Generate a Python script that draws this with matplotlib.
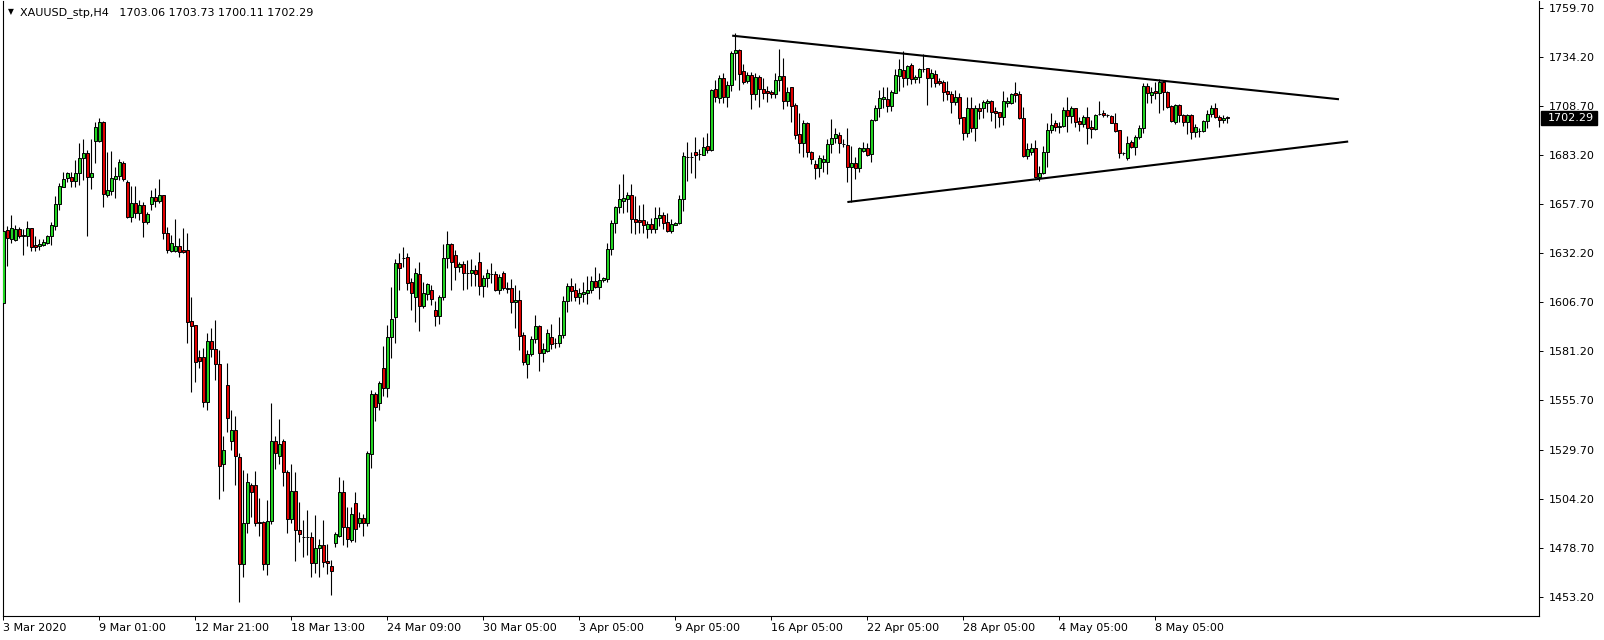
import matplotlib
matplotlib.use("Agg")
import matplotlib.pyplot as plt
from matplotlib.patches import Rectangle
import numpy as np

plt.rcParams['font.family'] = ['DejaVu Sans']

# XAUUSD H4 bars (one value per bar)
opens = [
    1606.1, 1644.2, 1639.4, 1639.0, 1644.8, 1641.8, 1641.1, 1645.1, 1636.4, 1636.1,
    1636.4, 1637.6, 1641.1, 1646.5, 1657.6, 1666.8, 1671.5, 1671.6, 1669.9, 1673.7,
    1681.5, 1684.1, 1671.6, 1690.7, 1690.7, 1700.3, 1662.4, 1664.7, 1671.0, 1672.3,
    1679.3, 1669.4, 1651.2, 1658.1, 1652.9, 1657.1, 1648.6, 1657.6, 1661.2, 1659.5,
    1662.3, 1642.8, 1633.5, 1633.5, 1635.9, 1633.6, 1633.6, 1596.9, 1594.6, 1578.1,
    1578.0, 1554.5, 1586.5, 1582.3, 1574.3, 1522.3, 1563.6, 1534.4, 1540.4, 1526.3,
    1470.2, 1491.6, 1511.5, 1511.5, 1492.2, 1492.2, 1470.2, 1492.9, 1534.4, 1526.8,
    1534.4, 1518.1, 1493.7, 1508.4, 1488.1, 1484.7, 1484.6, 1484.6, 1470.7, 1478.6,
    1480.3, 1472.0, 1469.4, 1481.5, 1485.0, 1507.7, 1489.5, 1482.9, 1502.0, 1491.9,
    1494.2, 1491.9, 1527.5, 1558.7, 1554.0, 1572.2, 1561.8, 1588.7, 1599.1, 1626.9,
    1629.8, 1630.0, 1617.2, 1609.6, 1621.4, 1604.9, 1611.0, 1613.0, 1602.6, 1599.7,
    1609.6, 1629.5, 1637.0, 1631.1, 1624.8, 1626.6, 1621.8, 1621.7, 1623.4, 1627.6,
    1615.3, 1619.1, 1621.5, 1621.2, 1613.0, 1621.7, 1613.9, 1613.9, 1606.6, 1607.8,
    1589.6, 1574.3, 1579.5, 1587.3, 1594.3, 1580.4, 1581.4, 1588.4, 1585.3, 1585.3,
    1589.6, 1607.3, 1615.1, 1613.0, 1609.6, 1611.1, 1611.6, 1613.0, 1617.7, 1614.4,
    1618.2, 1618.7, 1634.2, 1648.0, 1656.0, 1659.5, 1660.4, 1662.5, 1649.8, 1649.5,
    1649.5, 1644.6, 1647.3, 1644.9, 1650.3, 1652.0, 1648.4, 1643.9, 1647.0, 1647.7,
    1660.2, 1682.1, 1682.5, 1684.7, 1683.8, 1683.5, 1688.0, 1685.9, 1717.5, 1712.8,
    1723.2, 1713.7, 1719.6, 1736.2, 1737.9, 1727.2, 1721.9, 1724.9, 1715.1, 1723.7,
    1717.5, 1716.8, 1716.2, 1715.1, 1722.3, 1724.4, 1711.6, 1718.5, 1709.3, 1694.2,
    1689.7, 1699.8, 1685.0, 1678.4, 1676.7, 1679.8, 1679.8, 1689.0, 1692.0, 1693.7,
    1689.0, 1688.5, 1677.2, 1679.0, 1676.4, 1685.5, 1686.8, 1683.6, 1701.5, 1707.6,
    1712.3, 1712.3, 1708.8, 1715.7, 1724.4, 1727.5, 1723.2, 1730.1, 1722.7, 1723.7,
    1727.9, 1728.4, 1723.2, 1725.4, 1722.0, 1721.5, 1716.6, 1714.9, 1711.1, 1713.3,
    1702.9, 1694.6, 1707.6, 1697.2, 1707.6, 1707.6, 1710.2, 1711.6, 1706.2, 1705.5,
    1702.9, 1710.5, 1710.5, 1715.4, 1715.0, 1702.4, 1683.0, 1684.7, 1686.8, 1671.7,
    1674.1, 1684.7, 1696.3, 1700.1, 1697.7, 1698.4, 1706.7, 1703.8, 1707.6, 1701.0,
    1699.4, 1703.2, 1697.7, 1696.6, 1704.5, 1705.0, 1704.2, 1703.6, 1700.1, 1696.3,
    1684.4, 1681.6, 1690.0, 1687.3, 1692.8, 1697.2, 1719.2, 1714.5, 1716.6, 1715.4,
    1721.4, 1716.3, 1708.8, 1700.6, 1709.3, 1704.1, 1700.6, 1704.1, 1695.4, 1695.8,
    1695.8, 1701.0, 1704.6, 1707.6, 1703.2, 1701.5, 1703.06,
]
highs = [
    1649.6, 1646.3, 1652.0, 1646.8, 1646.0, 1644.6, 1648.9, 1645.5, 1641.1, 1639.4,
    1639.6, 1641.6, 1648.6, 1661.9, 1668.5, 1674.4, 1674.6, 1674.4, 1680.7, 1689.3,
    1691.4, 1685.9, 1691.4, 1700.6, 1702.4, 1701.0, 1685.0, 1685.3, 1677.2, 1681.0,
    1680.3, 1670.3, 1667.1, 1667.1, 1659.8, 1659.0, 1653.8, 1665.0, 1665.9, 1670.6,
    1662.5, 1645.6, 1641.6, 1649.9, 1639.9, 1645.3, 1642.5, 1609.5, 1594.6, 1581.8,
    1582.7, 1590.5, 1593.4, 1597.4, 1581.8, 1537.0, 1575.2, 1550.6, 1547.4, 1528.0,
    1519.3, 1517.6, 1512.4, 1519.0, 1504.6, 1492.9, 1503.7, 1554.0, 1537.0, 1545.9,
    1535.3, 1519.3, 1522.5, 1518.5, 1502.8, 1493.3, 1498.5, 1487.2, 1495.9, 1483.2,
    1493.3, 1480.8, 1472.5, 1487.2, 1515.9, 1514.1, 1500.2, 1500.2, 1508.0, 1497.6,
    1496.4, 1529.2, 1561.0, 1560.1, 1565.8, 1583.9, 1594.8, 1614.8, 1629.0, 1632.5,
    1635.2, 1632.5, 1619.1, 1624.3, 1627.6, 1617.4, 1616.5, 1615.6, 1607.3, 1610.4,
    1637.0, 1643.7, 1637.7, 1633.8, 1627.6, 1628.1, 1628.6, 1629.0, 1626.0, 1633.0,
    1620.8, 1623.8, 1627.2, 1623.1, 1621.4, 1623.1, 1617.4, 1618.6, 1615.6, 1613.0,
    1591.3, 1581.8, 1589.1, 1600.0, 1594.8, 1585.3, 1592.7, 1595.3, 1587.9, 1599.1,
    1609.9, 1616.8, 1619.1, 1616.5, 1613.9, 1617.4, 1620.3, 1620.3, 1624.8, 1621.7,
    1620.0, 1637.3, 1649.5, 1656.7, 1668.2, 1673.4, 1664.2, 1668.2, 1661.9, 1657.3,
    1657.8, 1649.1, 1650.3, 1656.0, 1656.4, 1653.8, 1653.3, 1649.8, 1648.6, 1662.5,
    1685.0, 1690.2, 1685.0, 1692.5, 1686.2, 1692.5, 1694.9, 1717.5, 1722.3, 1724.9,
    1725.8, 1722.0, 1737.6, 1747.0, 1738.3, 1730.7, 1726.7, 1726.7, 1726.2, 1724.9,
    1723.2, 1719.2, 1717.1, 1725.8, 1738.3, 1733.6, 1718.9, 1718.9, 1710.2, 1705.0,
    1701.5, 1700.6, 1685.3, 1680.7, 1683.3, 1683.3, 1691.4, 1701.8, 1697.2, 1695.4,
    1691.4, 1697.2, 1688.0, 1682.1, 1687.6, 1690.2, 1689.4, 1701.8, 1709.3, 1717.1,
    1718.5, 1718.5, 1717.1, 1727.9, 1733.1, 1737.6, 1730.1, 1731.0, 1724.9, 1728.4,
    1735.8, 1728.4, 1727.9, 1727.5, 1723.2, 1722.3, 1722.0, 1716.8, 1717.1, 1715.7,
    1702.9, 1713.7, 1713.7, 1709.3, 1710.2, 1711.9, 1712.3, 1711.9, 1708.1, 1705.8,
    1716.8, 1713.7, 1715.7, 1721.1, 1716.8, 1708.5, 1689.4, 1689.4, 1691.1, 1677.6,
    1688.0, 1699.8, 1705.0, 1701.5, 1700.6, 1708.5, 1713.3, 1708.8, 1707.9, 1703.2,
    1704.1, 1708.5, 1701.5, 1704.6, 1711.6, 1706.7, 1704.6, 1704.1, 1705.3, 1696.3,
    1685.0, 1693.2, 1691.1, 1693.7, 1698.9, 1720.9, 1720.9, 1718.9, 1721.4, 1722.7,
    1722.3, 1716.8, 1709.3, 1709.8, 1709.8, 1704.6, 1704.6, 1704.6, 1699.4, 1697.2,
    1701.5, 1706.7, 1709.3, 1710.5, 1704.1, 1704.1, 1703.73,
]
lows = [
    1605.5, 1625.7, 1637.3, 1638.7, 1639.9, 1631.2, 1636.1, 1633.5, 1633.5, 1633.8,
    1636.1, 1636.9, 1636.4, 1644.2, 1654.6, 1666.4, 1669.4, 1666.8, 1666.8, 1667.7,
    1670.3, 1641.3, 1665.4, 1678.9, 1690.2, 1656.4, 1661.2, 1662.5, 1661.1, 1670.3,
    1669.9, 1650.3, 1648.6, 1650.3, 1649.4, 1640.8, 1647.4, 1654.6, 1656.0, 1658.1,
    1639.4, 1632.1, 1633.0, 1633.0, 1630.3, 1632.4, 1585.6, 1560.1, 1565.3, 1572.2,
    1552.3, 1550.6, 1578.3, 1566.2, 1504.1, 1508.6, 1539.3, 1529.7, 1511.5, 1450.8,
    1463.8, 1486.7, 1495.0, 1490.2, 1485.0, 1467.3, 1464.7, 1491.2, 1519.7, 1522.5,
    1511.0, 1486.7, 1491.9, 1472.1, 1482.0, 1474.2, 1475.1, 1463.8, 1465.5, 1463.5,
    1468.7, 1465.2, 1454.3, 1479.1, 1484.3, 1480.3, 1479.4, 1482.0, 1482.0, 1489.8,
    1485.0, 1490.2, 1520.2, 1545.0, 1550.6, 1557.8, 1557.2, 1577.4, 1585.6, 1613.0,
    1625.2, 1613.0, 1602.6, 1596.5, 1591.9, 1603.5, 1607.8, 1605.2, 1594.3, 1595.3,
    1607.8, 1624.3, 1613.0, 1618.2, 1622.6, 1613.0, 1613.4, 1615.1, 1615.1, 1610.4,
    1609.6, 1614.4, 1616.5, 1612.7, 1610.8, 1613.0, 1611.3, 1600.9, 1593.1, 1581.8,
    1574.0, 1567.4, 1578.7, 1585.3, 1571.0, 1575.7, 1580.9, 1582.1, 1582.7, 1583.5,
    1587.9, 1601.7, 1607.3, 1607.3, 1605.7, 1607.0, 1605.6, 1611.3, 1613.9, 1608.2,
    1617.0, 1617.4, 1631.2, 1642.5, 1653.3, 1653.3, 1653.8, 1642.9, 1642.2, 1642.9,
    1642.5, 1639.9, 1642.9, 1642.5, 1646.3, 1644.6, 1643.4, 1642.9, 1646.9, 1647.4,
    1654.3, 1669.9, 1674.1, 1671.1, 1680.7, 1683.1, 1684.5, 1685.6, 1711.1, 1710.5,
    1710.5, 1708.1, 1716.8, 1722.3, 1717.1, 1720.2, 1720.6, 1707.1, 1711.9, 1708.5,
    1712.4, 1711.1, 1712.8, 1712.8, 1716.8, 1707.1, 1708.8, 1700.7, 1691.5, 1684.2,
    1682.4, 1682.1, 1678.6, 1670.6, 1672.0, 1674.6, 1673.4, 1684.2, 1689.7, 1684.5,
    1687.6, 1669.4, 1659.0, 1670.6, 1674.6, 1685.0, 1682.8, 1679.8, 1701.2, 1703.2,
    1707.6, 1705.8, 1706.2, 1715.4, 1716.8, 1718.5, 1719.7, 1720.2, 1720.6, 1720.6,
    1726.7, 1709.3, 1718.9, 1718.9, 1719.7, 1711.6, 1711.9, 1705.3, 1709.3, 1699.4,
    1691.1, 1692.8, 1695.4, 1690.8, 1701.8, 1702.4, 1705.8, 1701.2, 1697.2, 1698.0,
    1698.9, 1708.4, 1709.8, 1711.0, 1702.0, 1682.4, 1681.0, 1683.3, 1671.2, 1669.9,
    1673.4, 1677.2, 1694.6, 1695.9, 1694.9, 1697.7, 1695.4, 1699.8, 1697.7, 1695.9,
    1698.0, 1689.0, 1692.0, 1696.3, 1704.1, 1702.9, 1702.9, 1699.8, 1695.4, 1681.6,
    1683.3, 1680.7, 1686.8, 1683.3, 1691.4, 1694.9, 1710.5, 1710.5, 1712.3, 1705.3,
    1706.7, 1707.6, 1700.6, 1699.4, 1700.6, 1698.4, 1694.2, 1691.4, 1692.8, 1692.8,
    1695.4, 1697.2, 1703.2, 1702.4, 1697.7, 1699.8, 1700.11,
]
closes = [
    1643.9, 1639.9, 1645.1, 1644.6, 1641.3, 1640.9, 1645.1, 1635.6, 1635.6, 1636.9,
    1637.8, 1641.1, 1646.8, 1657.6, 1667.1, 1670.9, 1673.7, 1669.9, 1673.7, 1681.5,
    1684.1, 1671.6, 1673.7, 1697.7, 1700.3, 1662.8, 1665.0, 1671.1, 1672.3, 1679.5,
    1670.6, 1651.2, 1658.1, 1652.9, 1657.1, 1648.6, 1652.4, 1661.2, 1659.5, 1662.5,
    1642.8, 1633.8, 1637.6, 1635.9, 1633.0, 1633.0, 1596.5, 1594.4, 1575.7, 1576.0,
    1554.5, 1586.5, 1582.1, 1574.3, 1521.6, 1529.7, 1546.2, 1540.4, 1526.6, 1470.2,
    1491.6, 1512.9, 1508.0, 1491.9, 1491.9, 1470.2, 1492.8, 1534.4, 1528.0, 1532.9,
    1518.1, 1493.7, 1508.4, 1488.1, 1486.0, 1484.5, 1484.4, 1470.7, 1478.6, 1480.3,
    1471.6, 1471.1, 1466.9, 1486.0, 1507.7, 1489.5, 1483.2, 1496.3, 1488.5, 1494.2,
    1491.9, 1528.0, 1558.7, 1552.3, 1564.4, 1561.8, 1588.4, 1597.7, 1626.9, 1624.3,
    1629.9, 1616.8, 1611.3, 1621.7, 1604.9, 1611.3, 1616.0, 1608.5, 1599.7, 1609.6,
    1629.5, 1637.0, 1627.8, 1624.8, 1626.4, 1621.7, 1621.9, 1623.4, 1621.2, 1615.3,
    1619.1, 1621.7, 1621.6, 1613.0, 1619.8, 1613.9, 1613.8, 1606.6, 1607.8, 1589.3,
    1575.7, 1579.7, 1587.3, 1594.3, 1580.4, 1582.3, 1590.5, 1584.9, 1585.2, 1589.6,
    1607.3, 1615.1, 1612.5, 1609.6, 1611.3, 1612.0, 1613.0, 1617.7, 1614.8, 1618.2,
    1619.1, 1634.2, 1647.7, 1656.0, 1660.2, 1660.9, 1662.5, 1649.8, 1648.6, 1648.4,
    1647.0, 1647.3, 1644.9, 1650.3, 1652.0, 1648.1, 1643.9, 1647.3, 1648.1, 1660.2,
    1682.8, 1682.4, 1682.4, 1683.5, 1683.9, 1687.6, 1685.9, 1717.1, 1713.7, 1723.2,
    1713.7, 1719.6, 1736.2, 1737.9, 1725.5, 1721.5, 1724.9, 1715.1, 1723.7, 1717.5,
    1715.4, 1715.7, 1715.1, 1722.3, 1724.4, 1711.6, 1716.3, 1708.8, 1693.7, 1689.7,
    1699.8, 1685.0, 1681.0, 1676.7, 1681.5, 1681.0, 1689.0, 1692.0, 1694.0, 1689.4,
    1689.1, 1677.2, 1679.0, 1676.4, 1686.8, 1686.8, 1683.3, 1701.5, 1707.6, 1712.8,
    1713.3, 1708.8, 1716.1, 1724.9, 1727.9, 1723.2, 1729.6, 1722.7, 1724.0, 1727.9,
    1728.0, 1723.2, 1726.1, 1720.6, 1721.0, 1716.3, 1714.9, 1711.1, 1713.3, 1702.7,
    1694.6, 1707.6, 1697.2, 1707.6, 1706.4, 1711.1, 1711.4, 1705.8, 1705.3, 1702.9,
    1711.6, 1711.4, 1715.0, 1714.5, 1702.4, 1683.0, 1686.4, 1687.1, 1671.7, 1674.1,
    1684.7, 1696.3, 1698.9, 1698.0, 1698.4, 1706.7, 1703.8, 1707.6, 1700.6, 1699.4,
    1703.2, 1697.2, 1696.6, 1704.1, 1704.6, 1704.1, 1704.1, 1700.1, 1695.9, 1684.2,
    1684.5, 1689.7, 1687.3, 1692.8, 1697.2, 1719.2, 1715.4, 1716.3, 1715.4, 1721.4,
    1716.3, 1708.5, 1701.1, 1709.3, 1704.1, 1700.6, 1704.1, 1695.4, 1697.7, 1695.9,
    1701.0, 1704.6, 1707.6, 1703.2, 1701.5, 1702.4, 1702.29,
]

# date labels on the time axis (bar index -> label)
date_ticks = [0, 24, 48, 72, 96, 120, 144, 168, 192, 216, 240, 264, 288]
date_labels = ["3 Mar 2020", "9 Mar 01:00", "12 Mar 21:00", "18 Mar 13:00",
               "24 Mar 09:00", "30 Mar 05:00", "3 Apr 05:00", "9 Apr 05:00",
               "16 Apr 05:00", "22 Apr 05:00", "28 Apr 05:00", "4 May 05:00",
               "8 May 05:00"]
price_ticks = [1453.20, 1478.70, 1504.20, 1529.70, 1555.70, 1581.20, 1606.70,
               1632.20, 1657.70, 1683.20, 1708.70, 1734.20, 1759.70]

# hand drawn triangle (bar index, price)
upper_line_x = [182.2, 333.9]
upper_line_y = [1745.4, 1712.3]
lower_line_x = [211.0, 336.2]
lower_line_y = [1658.8, 1690.3]

symbol = "XAUUSD_stp,H4"

o = np.array(opens)
h = np.array(highs)
l = np.array(lows)
c = np.array(closes)
idx = np.arange(len(c))

W, H = 1604, 640
fig = plt.figure(figsize=(W / 100, H / 100), dpi=100)
fig.patch.set_facecolor("white")
ax_l, ax_r, ax_b, ax_t = 2.5, 1538.6, 615.7, 0.5
ax = fig.add_axes([ax_l / W, 1 - ax_b / H, (ax_r - ax_l) / W, (ax_b - ax_t) / H])
ax.set_facecolor("white")

bull = c >= o
cols = np.where(bull, "#22d422", "#e00000")
ax.vlines(idx, l, h, color="black", linewidth=0.8, zorder=2)
ax.bar(idx, np.abs(c - o), bottom=np.minimum(o, c), width=0.75, color=cols,
       edgecolor="black", linewidth=0.7, zorder=3)

ax.plot(upper_line_x, upper_line_y, color="black", linewidth=1.5, zorder=4,
        solid_capstyle="butt")
ax.plot(lower_line_x, lower_line_y, color="black", linewidth=1.5, zorder=4,
        solid_capstyle="butt")

ax.set_xlim(-0.21, 383.8)
ax.set_ylim(1443.5, 1763.7)

for s in ax.spines.values():
    s.set_linewidth(0.8)
    s.set_color("black")
ax.spines["top"].set_visible(False)

ax.yaxis.tick_right()
ax.set_yticks(price_ticks)
ax.set_yticklabels([f"{p:.2f}" for p in price_ticks])
ax.tick_params(axis="y", direction="out", length=3, width=0.7, pad=4.5,
               labelsize=8, colors="black")
ax.set_xticks(date_ticks)
ax.set_xticklabels(date_labels, ha="left")
ax.tick_params(axis="x", direction="out", length=3, width=0.7, pad=2,
               labelsize=8, colors="black")

# current price marker on the price scale
last = c[-1]
axw = ax_r - ax_l
ppx = (1763.7 - 1443.5) / (ax_b - ax_t)
trans = ax.get_yaxis_transform()
ax.add_patch(Rectangle((1 + 2.5 / axw, last - 7 * ppx), 56 / axw, 14 * ppx,
                       transform=trans, facecolor="black", edgecolor="black",
                       clip_on=False, zorder=10))
ax.text(1 + 9.5 / axw, last, f"{last:.2f}", transform=trans, color="white",
        fontsize=8, va="center", ha="left", zorder=11, clip_on=False)

# header
fig.text(10.5 / W, 1 - 11.5 / H, "\u25bc", fontsize=5.5, ha="center", va="center")
fig.text(20.5 / W, 1 - 12.8 / H,
         f"{symbol}   {o[-1]:.2f} {h[-1]:.2f} {l[-1]:.2f} {c[-1]:.2f}",
         fontsize=8, ha="left", va="center")

fig.savefig("out.png", dpi=100, facecolor="white")
